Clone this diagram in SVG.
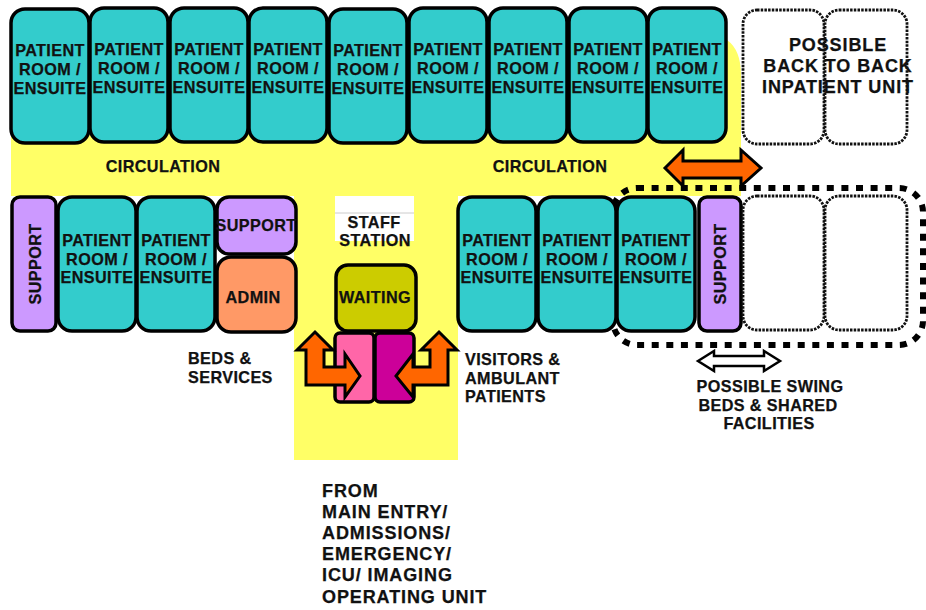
<svg xmlns="http://www.w3.org/2000/svg" width="926" height="610" viewBox="0 0 926 610">
<style>
text{font-family:"Liberation Sans",Arial,sans-serif;font-weight:700;font-size:16.2px;fill:#111;stroke:#111;stroke-width:.25;letter-spacing:.4px}
.m{text-anchor:middle}
.b{font-size:18px;letter-spacing:.9px}
.r{stroke:#000;stroke-width:3.5}
.teal{fill:#33cccc}.pur{fill:#cc99ff}
.dot{fill:#fff;stroke:#111;stroke-width:2.8;stroke-dasharray:2.5 1.2}
.arr{fill:#ff6600;stroke:#000;stroke-width:3;stroke-linejoin:miter}
</style>
<defs>
<g id="pr"><rect class="r teal" x="0" y="0" width="78" height="134" rx="14"/>
<text class="m" x="39" y="47">PATIENT</text><text class="m" x="39" y="66">ROOM /</text><text class="m" x="39" y="85">ENSUITE</text></g>
<g id="prl"><rect class="r teal" x="0" y="0" width="78" height="134" rx="14"/>
<text class="m" x="39" y="49">PATIENT</text><text class="m" x="39" y="68">ROOM /</text><text class="m" x="39" y="86">ENSUITE</text></g>
</defs>
<path id="floor" fill="#ffff66" d="M11 40H727Q741 50 741 75V196H458V460H294V196H11Z"/>
<g id="staff-station"><rect x="335" y="196" width="79" height="45" fill="#fff"/><path d="M335 213H414" stroke="#ccc" stroke-width="1"/><text class="m" x="374" y="228">STAFF</text><text class="m" x="375" y="246">STATION</text></g>
<g id="top-rooms">
<use id="room-t1" href="#pr" x="11" y="9"/><use id="room-t2" href="#pr" x="90" y="8"/><use id="room-t3" href="#pr" x="170" y="8"/><use id="room-t4" href="#pr" x="249" y="8"/><use id="room-t5" href="#pr" x="329" y="9"/><use id="room-t6" href="#pr" x="409" y="8"/><use id="room-t7" href="#pr" x="489" y="8"/><use id="room-t8" href="#pr" x="569" y="8"/><use id="room-t9" href="#pr" x="648" y="8"/>
</g>
<g id="back-to-back">
<rect class="dot" x="743" y="10" width="81" height="134" rx="14"/><rect class="dot" x="825" y="10" width="82" height="134" rx="14"/>
<text class="m b" x="838" y="51">POSSIBLE</text>
<text class="m b" x="838" y="72">BACK TO BACK</text><text class="m b" x="838" y="93">INPATIENT UNIT</text>
</g>
<g id="connectors">
<path id="link-h" class="arr" d="M665 168L683 150V161H741V150L761 168L741 186V178H683V186Z"/>
<path id="swing-arrow" fill="#fff" stroke="#000" stroke-width="2.5" d="M698 361L714 351V356H764V351L780 361L764 371V366H714V371Z"/>
</g>
<rect id="swing-zone" x="613" y="188" width="310" height="157" rx="24" fill="none" stroke="#000" stroke-width="6" stroke-dasharray="7 7.6"/>
<g id="bottom-left">
<g id="support-1"><rect class="r pur" x="12" y="197" width="44" height="134" rx="8"/><text class="m" transform="translate(41 264) rotate(-90)">SUPPORT</text></g>
<use id="room-l1" href="#prl" x="58" y="197"/><use id="room-l2" href="#prl" x="137" y="197"/>
<g id="support-2"><rect class="r pur" x="217" y="197" width="79" height="57" rx="12"/><text class="m" x="256" y="231">SUPPORT</text></g>
<g id="admin"><rect class="r" fill="#ff9966" x="217" y="257" width="79" height="75" rx="14"/><text class="m" x="253" y="303">ADMIN</text></g>
</g>
<g id="waiting"><rect class="r" fill="#cccc00" x="336" y="265" width="80" height="66" rx="12"/><text class="m" x="375" y="303">WAITING</text></g>
<g id="door-l"><rect class="r" fill="#ff66a8" x="335" y="333" width="39" height="69" rx="5"/></g>
<g id="door-r"><rect class="r" fill="#cc0099" x="375" y="333" width="39" height="69" rx="5"/></g>
<g id="connectors-front">
<path id="arrow-left" class="arr" d="M315 332L333 350H324V367H345V354L360 376L345 397V385H306V350H297Z"/>
<path id="arrow-right" class="arr" d="M439 332L457 350H448V385H413V397L396 376L413 354V367H430V350H421Z"/>
</g>
<g id="bottom-right">
<use id="room-r1" href="#prl" x="458" y="197"/><use id="room-r2" href="#prl" x="538" y="197"/><use id="room-r3" href="#prl" x="617" y="197"/>
<g id="support-3"><rect class="r pur" x="699" y="197" width="42" height="134" rx="8"/><text class="m" transform="translate(726 264) rotate(-90)">SUPPORT</text></g>
<rect class="dot" x="743" y="196" width="81" height="134" rx="14"/><rect class="dot" x="825" y="196" width="82" height="134" rx="14"/>
</g>
<g id="labels">
<text class="m" x="163" y="172">CIRCULATION</text><text class="m" x="550" y="172">CIRCULATION</text>
<text x="188" y="364">BEDS &amp;</text><text x="188" y="383">SERVICES</text>
<text x="465" y="365">VISITORS &amp;</text><text x="465" y="384">AMBULANT</text><text x="465" y="402">PATIENTS</text>
<text class="m" x="770" y="392">POSSIBLE SWING</text><text class="m" x="768" y="411">BEDS &amp; SHARED</text><text class="m" x="769" y="429">FACILITIES</text>
<text class="b" x="322" y="497">FROM</text><text class="b" x="322" y="518">MAIN ENTRY/</text><text class="b" x="322" y="539">ADMISSIONS/</text><text class="b" x="322" y="560">EMERGENCY/</text><text class="b" x="322" y="581">ICU/ IMAGING</text><text class="b" x="322" y="603">OPERATING UNIT</text>
</g>
</svg>
